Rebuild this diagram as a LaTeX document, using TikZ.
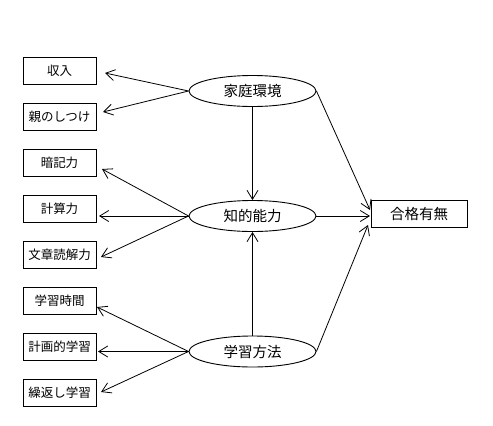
\documentclass[tikz,border=0pt]{standalone}
\usepackage{fontspec}
\setmainfont{Noto Sans CJK JP}
\usetikzlibrary{shapes.geometric,arrows.meta}
\begin{document}
\begin{tikzpicture}[x=1pt,y=-1pt,
  obs/.style={draw,line width=0.9pt,minimum width=73pt,minimum height=27pt,inner sep=0pt,font=\fontsize{12.5}{13}\selectfont},
  lat/.style={draw,ellipse,line width=0.9pt,minimum width=127pt,minimum height=31pt,inner sep=0pt,font=\fontsize{14.5}{15}\selectfont},
  outbox/.style={draw,line width=0.9pt,minimum width=96pt,minimum height=27pt,inner sep=0pt,font=\fontsize{14.5}{15}\selectfont},
  arr/.style={line width=0.8pt,-{Straight Barb[length=9pt,width=11pt,line width=0.8pt]}}]
\useasboundingbox[fill=white] (0,0) rectangle (493,426);
% left boxes
\node[obs] (b1) at (59.5,70.5) {収入};
\node[obs] (b2) at (59.5,116.5) {親のしつけ};
\node[obs] (b3) at (59.5,162.5) {暗記力};
\node[obs] (b4) at (59.5,208.5) {計算力};
\node[obs] (b5) at (59.5,254.5) {文章読解力};
\node[obs] (b6) at (59.5,300.5) {学習時間};
\node[obs] (b7) at (59.5,346.5) {計画的学習};
\node[obs] (b8) at (59.5,392.5) {繰返し学習};
% latent
\node[lat] (f1) at (252.5,91) {家庭環境};
\node[lat] (f2) at (252.5,216) {知的能力};
\node[lat] (f3) at (252.5,351.5) {学習方法};
\node[outbox] (y) at (419,213.5) {合格有無};
% arrow end coordinates
\coordinate (e1) at (105,73);
\coordinate (e2) at (103,112);
\coordinate (e3) at (102,169);
\coordinate (e4) at (99,216);
\coordinate (e5) at (101,257);
\coordinate (e6) at (97,307);
\coordinate (e7) at (98,351.5);
\coordinate (e8) at (101,392);
\draw[arr] (f1.west) -- (e1);
\draw[arr] (f1.west) -- (e2);
\draw[arr] (f2.west) -- (e3);
\draw[arr] (f2.west) -- (e4);
\draw[arr] (f2.west) -- (e5);
\draw[arr] (f3.west) -- (e6);
\draw[arr] (f3.west) -- (e7);
\draw[arr] (f3.west) -- (e8);
% vertical
\draw[arr] (f1.south) -- (f2.north);
\draw[arr] (f3.north) -- (f2.south);
% to outcome
\coordinate (t1) at (370,210);
\coordinate (t2) at (370,216);
\coordinate (t3) at (368,225);
\draw[arr] (f1.east) -- (t1);
\draw[arr] (f2.east) -- (t2);
\draw[arr] (f3.east) -- (t3);
\end{tikzpicture}
\end{document}
